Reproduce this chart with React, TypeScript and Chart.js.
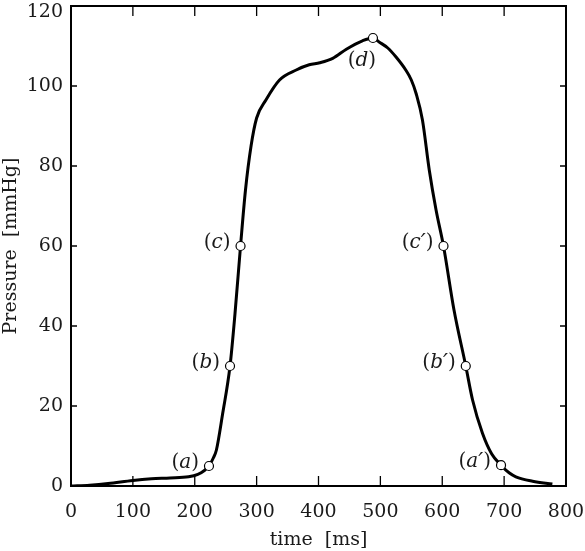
import React, { useEffect, useRef } from "react";
import { Chart, registerables } from "chart.js";

Chart.register(...registerables);

// Pressure curve (time in ms, pressure in mmHg)
const timeMs = [
  0, 30, 60, 100, 130, 160, 190, 205, 215, 223, 230, 235, 245, 257, 265, 274,
  282, 291, 300, 315, 337, 364, 385, 402, 423, 445, 471, 488, 498, 512, 525,
  541, 550, 558, 568, 579, 590, 602, 619, 638, 649, 665, 680, 695, 708, 719,
  746, 778,
];
const pressure = [
  0, 0.2, 0.6, 1.4, 1.8, 2.0, 2.3, 2.9, 3.8, 5, 7, 9, 18, 30, 43, 60, 74, 85,
  92, 96.5, 101.5, 104, 105.3, 105.8, 106.9, 109.2, 111.3, 112, 111, 109.5,
  107.3, 104, 101.5, 98, 91.5, 79, 69, 60, 44, 30, 21.5, 13.2, 8, 5.2, 3.3,
  2.3, 1.2, 0.5,
];

// Marked points
const markerTimes = [223, 257, 274, 488, 602, 638, 695];
const markerPressures = [5, 30, 60, 112, 60, 30, 5.2];
const markerLetters = ["a", "b", "c", "d", "c", "b", "a"];
const markerPrimes = [false, false, false, false, true, true, true];

// Axis ticks
const xTicks = [0, 100, 200, 300, 400, 500, 600, 700, 800];
const yTicks = [0, 20, 40, 60, 80, 100, 120];

const FONT = "'DejaVu Serif', 'Liberation Serif', serif";
const TEXT_COLOR = "#1a1a1a";

const framePlugin = {
  id: "frameTicks",
  beforeDraw(chart: any) {
    // keep the topmost y label inside the canvas, as in the original figure
    const items = chart.scales.y.getLabelItems();
    items.forEach((it: any) => {
      const ty = it.options.translation[1];
      const minY = 12;
      if (ty < minY) it.options.translation[1] = minY;
    });
  },
  afterDraw(chart: any) {
    const { ctx, chartArea } = chart;
    const xs = chart.scales.x;
    const ys = chart.scales.y;
    const { left, right, top, bottom } = chartArea;
    ctx.save();
    ctx.strokeStyle = "#000";
    ctx.lineWidth = 1.3;
    ctx.beginPath();
    for (const v of xTicks) {
      const px = xs.getPixelForValue(v);
      ctx.moveTo(px, bottom);
      ctx.lineTo(px, bottom - 10);
      ctx.moveTo(px, top);
      ctx.lineTo(px, top + 10);
    }
    for (const v of yTicks) {
      const py = ys.getPixelForValue(v);
      ctx.moveTo(left, py);
      ctx.lineTo(left + 6, py);
      ctx.moveTo(right, py);
      ctx.lineTo(right - 6, py);
    }
    ctx.stroke();
    ctx.lineWidth = 2;
    ctx.strokeRect(left, top, right - left, bottom - top);
    ctx.restore();
  },
};

const labelPlugin = {
  id: "pointLabels",
  afterDatasetsDraw(chart: any) {
    const { ctx } = chart;
    const meta = chart.getDatasetMeta(0);
    ctx.save();
    ctx.fillStyle = TEXT_COLOR;
    ctx.textBaseline = "middle";
    meta.data.forEach((pt: any, i: number) => {
      const segs: [string, string][] = [
        ["(", `20px ${FONT}`],
        [markerLetters[i], `italic 20px ${FONT}`],
      ];
      if (markerPrimes[i]) segs.push(["\u2032", `italic 22px ${FONT}`]);
      segs.push([")", `20px ${FONT}`]);
      let total = 0;
      const widths = segs.map(([t, f]) => {
        ctx.font = f;
        const w = ctx.measureText(t).width;
        total += w;
        return w;
      });
      let x: number;
      let y: number;
      if (markerLetters[i] === "d") {
        x = pt.x - 11 - total / 2;
        y = pt.y + 23;
      } else {
        x = pt.x - 10 - total;
        y = pt.y - 3;
      }
      ctx.textAlign = "left";
      segs.forEach(([t, f], k) => {
        ctx.font = f;
        ctx.fillText(t, x, y);
        x += widths[k];
      });
    });
    ctx.restore();
  },
};

export default function App() {
  const canvasRef = useRef<HTMLCanvasElement | null>(null);

  useEffect(() => {
    const canvas = canvasRef.current;
    if (!canvas) return;
    Chart.defaults.font.family = FONT;
    const chart = new Chart(canvas, {
      type: "scatter",
      data: {
        datasets: [
          {
            data: markerTimes.map((t, i) => ({ x: t, y: markerPressures[i] })),
            showLine: false,
            pointRadius: 4.5,
            pointBackgroundColor: "#fff",
            pointBorderColor: "#000",
            pointBorderWidth: 1.2,
            order: 0,
          },
          {
            data: timeMs.map((t, i) => ({ x: t, y: pressure[i] })),
            showLine: true,
            borderColor: "#000",
            borderWidth: 3,
            pointRadius: 0,
            cubicInterpolationMode: "monotone",
            order: 1,
          },
        ],
      },
      options: {
        responsive: false,
        animation: false,
        devicePixelRatio: 1,
        layout: { padding: { left: 0, top: 6, right: 19, bottom: 0 } },
        plugins: { legend: { display: false }, tooltip: { enabled: false } },
        scales: {
          x: {
            type: "linear",
            min: 0,
            max: 800,
            grid: { display: false, drawTicks: false },
            border: { display: false },
            afterBuildTicks: (s: any) => {
              s.ticks = xTicks.map((v) => ({ value: v }));
            },
            afterFit: (s: any) => {
              s.height = 65;
              s.paddingLeft = 0;
              s.paddingRight = 0;
              s.paddingTop = 0;
              s.paddingBottom = 0;
            },
            ticks: {
              color: TEXT_COLOR,
              font: { size: 19, family: FONT },
              padding: 15,
              maxRotation: 0,
              autoSkip: false,
            },
            title: {
              display: true,
              text: "time  [ms]",
              color: TEXT_COLOR,
              font: { size: 19, family: FONT },
              padding: { top: 0, bottom: 0 },
            },
          },
          y: {
            type: "linear",
            min: 0,
            max: 120,
            grid: { display: false, drawTicks: false },
            border: { display: false },
            afterBuildTicks: (s: any) => {
              s.ticks = yTicks.map((v) => ({ value: v }));
            },
            afterFit: (s: any) => {
              s.width = 71;
              s.paddingLeft = 0;
              s.paddingRight = 0;
              s.paddingTop = 0;
              s.paddingBottom = 0;
            },
            ticks: {
              color: TEXT_COLOR,
              font: { size: 19, family: FONT },
              padding: 8,
              autoSkip: false,
            },
            title: {
              display: true,
              text: "Pressure  [mmHg]",
              color: TEXT_COLOR,
              font: { size: 19, family: FONT },
              padding: { top: 0, bottom: 0 },
            },
          },
        },
      },
      plugins: [framePlugin, labelPlugin],
    } as any);
    return () => chart.destroy();
  }, []);

  return (
    <div style={{ position: "absolute", left: 0, top: 0, width: 585, height: 551, background: "#fff" }}>
      <canvas ref={canvasRef} width={585} height={551} />
    </div>
  );
}
